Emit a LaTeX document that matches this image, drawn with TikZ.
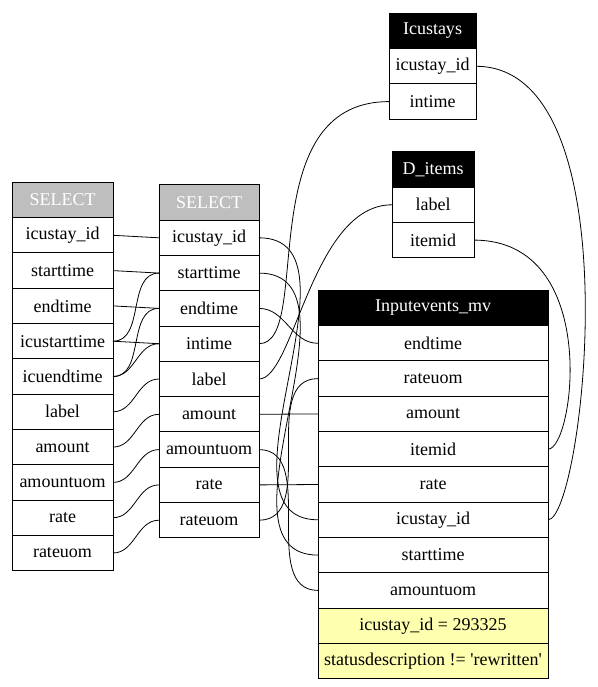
\documentclass[tikz,border=0pt]{standalone}
\usepackage{fontspec}
\setmainfont{Liberation Serif}
\usetikzlibrary{positioning}
\definecolor{hdrgray}{RGB}{190,190,190}
\definecolor{condyellow}{RGB}{255,255,176}

\begin{document}
\begin{tikzpicture}[x=1pt,y=-1pt,node distance=0pt,
		every node/.style={font=\fontsize{18}{20}\selectfont},
		fld/.style={draw,fill=white,minimum height=35.3pt,inner sep=0pt,outer sep=0pt,line width=1pt},
		hdr/.style={fld,fill=black,text=white},
		ghdr/.style={fld,fill=hdrgray,text=white},
		cond/.style={fld,fill=condyellow},
		link/.style={line width=0.8pt}]
	\useasboundingbox (0,0) rectangle (597,687);
	% outer select
	\begin{scope}[nodes={minimum width=101pt}]
		\node[ghdr] (s1) at (62.5,200) {SELECT};
		\node[fld,below=of s1] (s1_id) {icustay\_id};
		\node[fld,below=of s1_id] (s1_start) {starttime};
		\node[fld,below=of s1_start] (s1_end) {endtime};
		\node[fld,below=of s1_end] (s1_icustart) {icustarttime};
		\node[fld,below=of s1_icustart] (s1_icuend) {icuendtime};
		\node[fld,below=of s1_icuend] (s1_label) {label};
		\node[fld,below=of s1_label] (s1_amount) {amount};
		\node[fld,below=of s1_amount] (s1_amountuom) {amountuom};
		\node[fld,below=of s1_amountuom] (s1_rate) {rate};
		\node[fld,below=of s1_rate] (s1_rateuom) {rateuom};
	\end{scope}
	% inner select
	\begin{scope}[nodes={minimum width=100pt}]
		\node[ghdr] (s2) at (209,202.5) {SELECT};
		\node[fld,below=of s2] (s2_id) {icustay\_id};
		\node[fld,below=of s2_id] (s2_start) {starttime};
		\node[fld,below=of s2_start] (s2_end) {endtime};
		\node[fld,below=of s2_end] (s2_in) {intime};
		\node[fld,below=of s2_in] (s2_label) {label};
		\node[fld,below=of s2_label] (s2_amount) {amount};
		\node[fld,below=of s2_amount] (s2_amountuom) {amountuom};
		\node[fld,below=of s2_amountuom] (s2_rate) {rate};
		\node[fld,below=of s2_rate] (s2_rateuom) {rateuom};
	\end{scope}
	% tables
	\begin{scope}[nodes={minimum width=87pt}]
		\node[hdr] (ic) at (432.5,31) {Icustays};
		\node[fld,below=of ic] (ic_id) {icustay\_id};
		\node[fld,below=of ic_id] (ic_in) {intime};
	\end{scope}
	\begin{scope}[nodes={minimum width=82pt}]
		\node[hdr] (di) at (433,169.5) {D\_items};
		\node[fld,below=of di] (di_label) {label};
		\node[fld,below=of di_label] (di_item) {itemid};
	\end{scope}
	\begin{scope}[nodes={minimum width=230pt}]
		\node[hdr] (ie) at (433,308) {Inputevents\_mv};
		\node[fld,below=of ie] (ie_end) {endtime};
		\node[fld,below=of ie_end] (ie_rateuom) {rateuom};
		\node[fld,below=of ie_rateuom] (ie_amount) {amount};
		\node[fld,below=of ie_amount] (ie_item) {itemid};
		\node[fld,below=of ie_item] (ie_rate) {rate};
		\node[fld,below=of ie_rate] (ie_id) {icustay\_id};
		\node[fld,below=of ie_id] (ie_start) {starttime};
		\node[fld,below=of ie_start] (ie_amountuom) {amountuom};
		\node[cond,below=of ie_amountuom] (ie_c1) {icustay\_id = 293325};
		\node[cond,below=of ie_c1] (ie_c2) {statusdescription != \textquotesingle rewritten\textquotesingle};
	\end{scope}
	% column links
	\path[link]
		(s1_id.east) edge (s2_id.west)
		(s1_start.east) edge (s2_start.west)
		(s1_end.east) edge (s2_end.west)
		(s1_icustart.east) edge (s2_in.west)
		(s1_icustart.east) edge[out=0,in=180] (s2_start.west)
		(s1_icuend.east) edge[out=0,in=180] (s2_end.west)
		(s1_icuend.east) edge[out=0,in=180] (s2_in.west)
		(s1_label.east) edge[out=0,in=180] (s2_label.west)
		(s1_amount.east) edge[out=0,in=180] (s2_amount.west)
		(s1_amountuom.east) edge[out=0,in=180] (s2_amountuom.west)
		(s1_rate.east) edge[out=0,in=180] (s2_rate.west)
		(s1_rateuom.east) edge[out=0,in=180] (s2_rateuom.west)
		(s2_id.east) edge[out=0,in=180] (ie_id.west)
		(s2_start.east) edge[out=0,in=180] (ie_start.west)
		(s2_end.east) edge[out=0,in=180] (ie_end.west)
		(ic_in.west) edge[out=180,in=0,out distance=140,in distance=55] (s2_in.east)
		(di_label.west) edge[out=180,in=0,out distance=80,in distance=35] (s2_label.east)
		(s2_amount.east) edge (ie_amount.west)
		(s2_amountuom.east) edge[out=0,in=180] (ie_amountuom.west)
		(s2_rate.east) edge (ie_rate.west)
		(s2_rateuom.east) edge[out=0,in=180] (ie_rateuom.west)
		(ic_id.east) edge[out=0,in=0,out distance=160,in distance=35] (ie_id.east)
		(di_item.east) edge[out=0,in=0,out distance=128,in distance=26] (ie_item.east);
\end{tikzpicture}
\end{document}
